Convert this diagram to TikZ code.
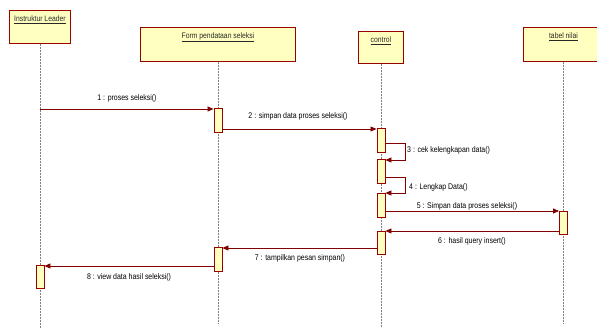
\documentclass[tikz,border=0pt]{standalone}
\usepackage{fontspec}
\newfontfamily\umlfont[FakeStretch=0.85]{Liberation Sans}
\usetikzlibrary{arrows.meta}
\definecolor{umlred}{RGB}{153, 0, 0}
\definecolor{umlarrow}{RGB}{128, 0, 0}
\definecolor{umlfill}{RGB}{255, 255, 192}
\definecolor{umltext}{RGB}{40, 40, 40}

\begin{document}
\begin{tikzpicture}[x=1pt, y=-1pt,
        obj/.style={rectangle, draw=umlred, fill=umlfill, line width=0.9pt, anchor=north west, inner sep=0pt},
        title/.style={anchor=center, inner sep=1pt, text=umltext, font=\umlfont\fontsize{8}{9}\selectfont},
        act/.style={rectangle, draw=umlred, fill=umlfill, line width=0.9pt, minimum width=8pt, inner sep=0pt},
        life/.style={draw=gray, densely dotted, line width=0.5pt},
        msg/.style={-{Triangle[length=6pt, width=5pt]}, umlarrow, line width=0.8pt},
        lbl/.style={inner sep=1pt, text=black, font=\umlfont\fontsize{8.2}{9}\selectfont}
    ]
        \useasboundingbox (0,0) rectangle (597,328);

        % objects
        \node[obj, minimum width=61pt, minimum height=33pt] (il) at (9,10) {};
        \node[obj, minimum width=155pt, minimum height=34pt] (fp) at (140,27) {};
        \node[obj, minimum width=45pt, minimum height=32pt] (ctl) at (358,31) {};
        \node[obj, minimum width=80pt, minimum height=34pt] (tn) at (523,27) {};
        \node[title] (il-t) at ([yshift=-10pt]il.north) {\underline{Instruktur Leader}};
        \node[title] (fp-t) at ([yshift=-10pt]fp.north) {\underline{Form pendataan seleksi}};
        \node[title] (ctl-t) at ([yshift=-10pt]ctl.north) {\underline{control}};
        \node[title] (tn-t) at ([yshift=-10pt]tn.north) {\underline{tabel nilai}};

        % lifelines
        \coordinate (il-end) at (il.south |- 0,328);
        \coordinate (fp-end) at (fp.south |- 0,323);
        \coordinate (ctl-end) at (ctl.south |- 0,328);
        \coordinate (tn-end) at (tn.south |- 0,323);
        \draw[life] (il.south) -- (il-end);
        \draw[life] (fp.south) -- (fp-end);
        \draw[life] (ctl.south) -- (ctl-end);
        \draw[life] (tn.south) -- (tn-end);

        % activations
        \node[act, minimum height=24pt, anchor=north] (fp-a1) at (fp.south |- 0,108) {};
        \node[act, minimum height=24pt, anchor=north] (ctl-a1) at (ctl.south |- 0,128) {};
        \node[act, minimum height=24pt, anchor=north] (ctl-a2) at (ctl.south |- 0,159) {};
        \node[act, minimum height=24pt, anchor=north] (ctl-a3) at (ctl.south |- 0,193) {};
        \node[act, minimum height=23pt, anchor=north] (tn-a1) at (tn.south |- 0,211) {};
        \node[act, minimum height=23pt, anchor=north] (ctl-a4) at (ctl.south |- 0,231) {};
        \node[act, minimum height=24pt, anchor=north] (fp-a2) at (fp.south |- 0,247) {};
        \node[act, minimum height=23pt, anchor=north] (il-a1) at (il.south |- 0,265) {};

        % messages
        \coordinate (m1) at (il.south |- 0,109);
        \draw[msg] (m1) -- (fp-a1.west |- m1);
        \node[lbl] (m1-l) at (127,98) {1 : proses seleksi()};

        \draw[msg] (fp-a1.east |- 0,129) -- (ctl-a1.west |- 0,129);
        \node[lbl] (m2-l) at (298,116) {2 : simpan data proses seleksi()};

        \draw[msg] (ctl-a1.east |- 0,143) -| (405,160) -- (ctl-a2.east |- 0,160);
        \node[lbl, anchor=west] (m3-l) at (406,150) {3 : cek kelengkapan data()};

        \draw[msg] (ctl-a2.east |- 0,177) -| (405,193) -- (ctl-a3.east |- 0,193);
        \node[lbl, anchor=west] (m4-l) at (408,187) {4 : Lengkap Data()};

        \draw[msg] (ctl-a3.east |- 0,211) -- (tn-a1.west |- 0,211);
        \node[lbl] (m5-l) at (467,206) {5 : Simpan data proses seleksi()};

        \draw[msg] (tn-a1.west |- 0,231) -- (ctl-a4.east |- 0,231);
        \node[lbl] (m6-l) at (472,241) {6 : hasil query insert()};

        \draw[msg] (ctl-a4.west |- 0,248) -- (fp-a2.east |- 0,248);
        \node[lbl] (m7-l) at (300,258) {7 : tampilkan pesan simpan()};

        \draw[msg] (fp-a2.west |- 0,266) -- (il-a1.east |- 0,266);
        \node[lbl] (m8-l) at (129,277) {8 : view data hasil seleksi()};
    \end{tikzpicture}
\end{document}
